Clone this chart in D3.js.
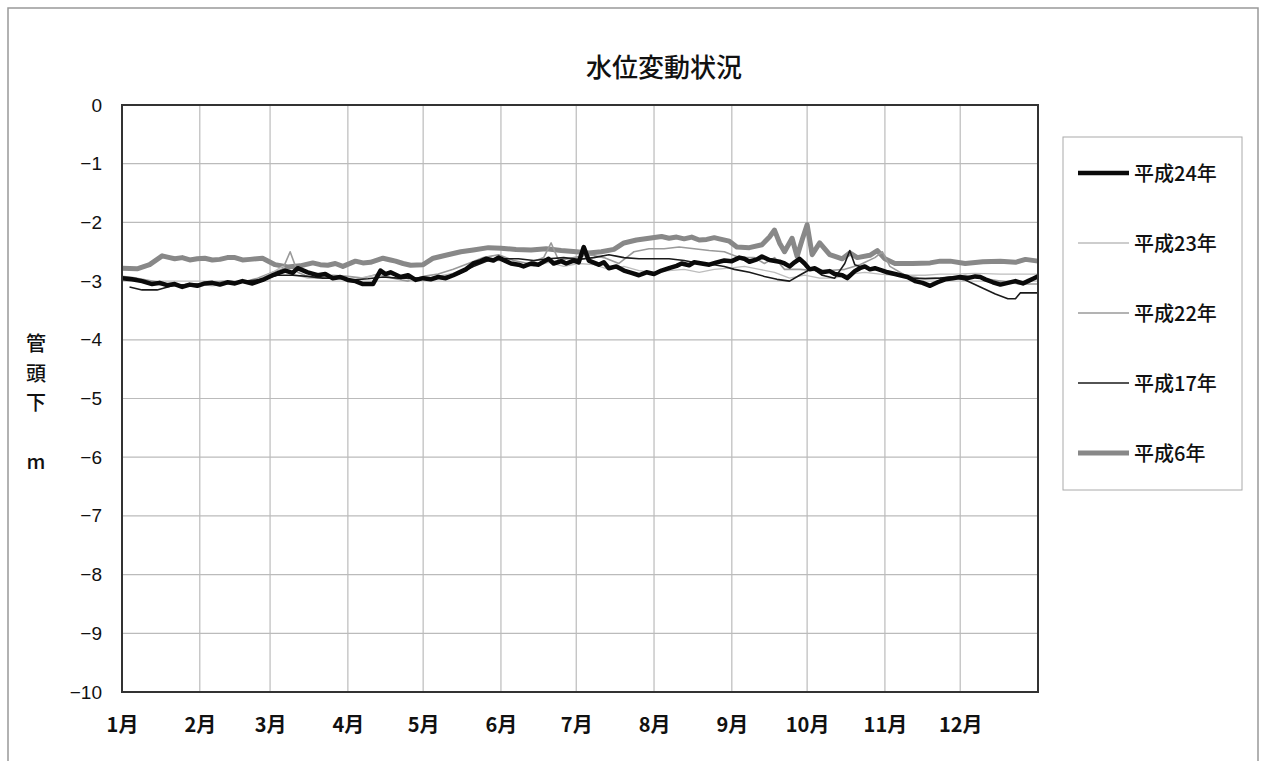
<!DOCTYPE html>
<html>
<head>
<meta charset="utf-8">
<script src="https://cdn.jsdelivr.net/npm/d3@7"></script>
<style>
  body { margin: 0; background: #fff; }
  text { fill: #111; }
</style>
</head>
<body>
<div id="main"></div>
<script>

// month labels and the day of year each month starts on
var monthLabels = ["1月", "2月", "3月", "4月", "5月", "6月", "7月", "8月", "9月", "10月", "11月", "12月"];
var monthStarts = [0, 31, 59, 90, 120, 151, 181, 212, 243, 273, 304, 334];
var yTicks = [0, -1, -2, -3, -4, -5, -6, -7, -8, -9, -10];

var seriesNames = ["平成24年", "平成23年", "平成22年", "平成17年", "平成6年"];

// [day of year, water level (m below well head)]
var h24 = [[0,-2.95],[4,-2.97],[8,-3.0],[12,-3.05],[15,-3.03],[18,-3.07],[21,-3.05],[24,-3.1],[27,-3.06],[30,-3.08],[33,-3.04],[36,-3.03],[39,-3.06],[42,-3.02],[45,-3.04],[48,-3.0],[52,-3.04],[56,-2.98],[60,-2.9],[63,-2.85],[65,-2.82],[68,-2.86],[70,-2.78],[74,-2.85],[78,-2.9],[81,-2.88],[84,-2.95],[87,-2.93],[90,-2.98],[93,-3.0],[96,-3.05],[100,-3.05],[103,-2.82],[105,-2.88],[107,-2.85],[111,-2.93],[114,-2.9],[117,-2.98],[120,-2.95],[123,-2.97],[126,-2.93],[129,-2.95],[132,-2.9],[134,-2.86],[137,-2.8],[140,-2.7],[143,-2.66],[145,-2.62],[148,-2.65],[150,-2.6],[153,-2.66],[155,-2.7],[158,-2.72],[160,-2.75],[163,-2.7],[166,-2.72],[170,-2.62],[172,-2.7],[175,-2.66],[177,-2.7],[180,-2.65],[182,-2.68],[184,-2.42],[186,-2.65],[190,-2.72],[192,-2.68],[194,-2.78],[197,-2.75],[200,-2.82],[203,-2.86],[206,-2.9],[209,-2.85],[212,-2.88],[215,-2.82],[218,-2.78],[221,-2.74],[223,-2.7],[226,-2.73],[228,-2.68],[231,-2.7],[234,-2.72],[237,-2.68],[240,-2.65],[243,-2.66],[246,-2.6],[248,-2.62],[250,-2.67],[253,-2.63],[255,-2.58],[258,-2.64],[262,-2.67],[264,-2.7],[266,-2.75],[268,-2.68],[270,-2.62],[272,-2.7],[274,-2.8],[276,-2.78],[279,-2.85],[282,-2.83],[284,-2.88],[287,-2.9],[289,-2.95],[292,-2.83],[294,-2.78],[296,-2.75],[298,-2.8],[300,-2.78],[303,-2.82],[305,-2.85],[308,-2.88],[310,-2.9],[313,-2.93],[316,-3.0],[319,-3.03],[322,-3.08],[325,-3.02],[328,-2.97],[331,-2.95],[334,-2.93],[337,-2.95],[340,-2.92],[342,-2.93],[344,-2.97],[347,-3.02],[350,-3.06],[353,-3.03],[356,-3.0],[359,-3.04],[361,-3.0],[363,-2.96],[365,-2.92]];

var h23 = [[0,-2.95],[6,-2.97],[12,-3.05],[18,-3.08],[24,-3.06],[30,-3.05],[36,-3.08],[42,-3.05],[48,-3.02],[54,-2.98],[60,-2.85],[64,-2.75],[68,-2.88],[74,-2.95],[80,-2.95],[86,-2.93],[92,-2.98],[98,-2.92],[104,-2.88],[110,-2.9],[116,-3.0],[122,-2.95],[128,-2.9],[134,-2.85],[140,-2.72],[146,-2.65],[152,-2.65],[158,-2.72],[164,-2.75],[170,-2.68],[176,-2.75],[182,-2.7],[188,-2.72],[194,-2.8],[200,-2.75],[206,-2.82],[212,-2.85],[218,-2.82],[224,-2.8],[230,-2.85],[236,-2.8],[242,-2.78],[248,-2.75],[254,-2.8],[260,-2.85],[266,-2.95],[272,-2.9],[278,-2.95],[284,-2.95],[290,-2.88],[296,-2.85],[302,-2.88],[308,-2.9],[314,-2.9],[320,-2.9],[326,-2.88],[332,-2.88],[340,-2.87],[350,-2.88],[358,-2.88],[365,-2.88]];

var h22 = [[0,-2.92],[6,-2.95],[12,-3.0],[18,-3.05],[24,-3.08],[30,-3.05],[36,-3.02],[42,-3.0],[48,-3.02],[54,-2.95],[60,-2.85],[64,-2.8],[67,-2.5],[70,-2.85],[74,-2.92],[78,-2.95],[84,-2.9],[90,-2.92],[96,-2.95],[102,-2.88],[108,-2.95],[114,-3.0],[120,-2.92],[126,-2.88],[132,-2.8],[138,-2.7],[144,-2.6],[150,-2.55],[156,-2.65],[162,-2.7],[168,-2.6],[171,-2.35],[174,-2.65],[180,-2.6],[186,-2.55],[192,-2.6],[198,-2.7],[204,-2.5],[210,-2.45],[216,-2.45],[222,-2.42],[228,-2.45],[234,-2.48],[240,-2.5],[246,-2.6],[252,-2.6],[256,-2.7],[260,-2.6],[264,-2.8],[270,-2.8],[276,-2.82],[282,-2.82],[288,-2.8],[294,-2.72],[300,-2.6],[303,-2.5],[306,-2.75],[312,-2.9],[318,-2.95],[324,-2.95],[330,-2.95],[336,-2.9],[342,-2.95],[350,-3.0],[358,-3.05],[365,-3.05]];

var h17 = [[3,-3.1],[8,-3.15],[14,-3.15],[20,-3.08],[26,-3.06],[32,-3.05],[38,-3.05],[44,-3.03],[50,-3.0],[56,-2.97],[62,-2.9],[68,-2.9],[74,-2.92],[80,-2.95],[86,-2.95],[92,-2.98],[98,-2.96],[104,-2.93],[110,-2.95],[116,-2.95],[122,-2.95],[128,-2.93],[134,-2.88],[140,-2.75],[146,-2.65],[152,-2.62],[158,-2.62],[164,-2.65],[170,-2.62],[176,-2.6],[182,-2.63],[188,-2.6],[194,-2.55],[200,-2.6],[206,-2.62],[212,-2.62],[218,-2.62],[224,-2.65],[230,-2.7],[236,-2.72],[240,-2.75],[244,-2.8],[250,-2.85],[256,-2.92],[261,-2.97],[266,-3.0],[270,-2.9],[275,-2.78],[279,-2.9],[284,-2.95],[288,-2.7],[290,-2.48],[292,-2.72],[296,-2.78],[302,-2.8],[308,-2.88],[314,-2.95],[320,-2.96],[326,-2.95],[330,-2.93],[336,-2.98],[342,-3.1],[348,-3.22],[353,-3.3],[356,-3.3],[358,-3.2],[365,-3.2]];

var h6 = [[0,-2.78],[6,-2.79],[11,-2.72],[16,-2.57],[19,-2.6],[21,-2.62],[24,-2.6],[27,-2.64],[30,-2.62],[33,-2.61],[36,-2.64],[39,-2.63],[42,-2.6],[45,-2.6],[48,-2.64],[51,-2.63],[56,-2.61],[61,-2.72],[66,-2.76],[71,-2.74],[76,-2.69],[79,-2.72],[82,-2.73],[85,-2.7],[88,-2.75],[93,-2.66],[96,-2.69],[99,-2.68],[104,-2.61],[107,-2.64],[109,-2.66],[112,-2.7],[115,-2.73],[120,-2.72],[124,-2.61],[129,-2.56],[135,-2.5],[140,-2.47],[146,-2.43],[151,-2.44],[157,-2.46],[163,-2.47],[169,-2.45],[175,-2.48],[181,-2.5],[186,-2.52],[191,-2.5],[196,-2.46],[200,-2.35],[205,-2.3],[210,-2.27],[215,-2.24],[218,-2.27],[221,-2.25],[224,-2.28],[227,-2.25],[230,-2.3],[233,-2.29],[236,-2.26],[238,-2.28],[242,-2.32],[245,-2.42],[250,-2.43],[255,-2.38],[258,-2.25],[260,-2.13],[262,-2.35],[264,-2.5],[267,-2.27],[269,-2.58],[271,-2.3],[273,-2.04],[275,-2.55],[278,-2.35],[282,-2.55],[287,-2.62],[290,-2.52],[293,-2.6],[298,-2.56],[301,-2.48],[304,-2.62],[308,-2.7],[315,-2.7],[322,-2.69],[326,-2.66],[330,-2.66],[336,-2.7],[343,-2.67],[350,-2.66],[356,-2.68],[360,-2.63],[365,-2.66]];

var allSeries = [h24, h23, h22, h17, h6];

// styles, same order as seriesNames
var colors = ["#0a0a0a", "#bdbdbd", "#9a9a9a", "#1a1a1a", "#888"];
var widths = [4.5, 1.3, 1.6, 1.6, 5];
var drawOrder = [4, 2, 1, 3, 0];

var w = 1266;
var h = 761;
var margin = {left: 122, top: 105, right: 228, bottom: 69};
var cjk = "'Noto Sans CJK JP'";

window.onload = function () {

  var svg = d3.select("#main").append("svg")
      .attr("width", w)
      .attr("height", h);

  // outer chart frame
  svg.append("rect")
      .attr("x", 8).attr("y", 8)
      .attr("width", 1250).attr("height", 770)
      .attr("fill", "none")
      .attr("stroke", "#999")
      .attr("stroke-width", 1.5);

  var x = d3.scaleLinear()
      .domain([0, 365])
      .range([margin.left, w - margin.right]);

  var y = d3.scaleLinear()
      .domain([-10, 0])
      .range([h - margin.bottom, margin.top]);

  svg.append("text")
      .attr("x", 664).attr("y", 77)
      .attr("text-anchor", "middle")
      .style("font-family", cjk)
      .style("font-size", "26px")
      .style("font-weight", "500")
      .text("水位変動状況");

  // grid
  var grid = svg.append("g");
  grid.selectAll(".hg")
      .data(yTicks.slice(1, -1))
      .enter().append("line")
      .attr("x1", x(0)).attr("x2", x(365))
      .attr("y1", function(d) { return y(d); })
      .attr("y2", function(d) { return y(d); })
      .attr("stroke", "#bbb").attr("stroke-width", 1.2);

  grid.selectAll(".vg")
      .data(monthStarts.slice(1))
      .enter().append("line")
      .attr("y1", y(0)).attr("y2", y(-10))
      .attr("x1", function(d) { return x(d); })
      .attr("x2", function(d) { return x(d); })
      .attr("stroke", "#bbb").attr("stroke-width", 1.2);

  // lines
  var line = d3.line()
      .x(function(d) { return x(d[0]); })
      .y(function(d) { return y(d[1]); });

  drawOrder.forEach(function(i) {
    svg.append("path")
        .datum(allSeries[i])
        .attr("d", line)
        .attr("fill", "none")
        .attr("stroke", colors[i])
        .attr("stroke-width", widths[i])
        .attr("stroke-linejoin", "round");
  });

  // plot border
  svg.append("rect")
      .attr("x", x(0)).attr("y", y(0))
      .attr("width", x(365) - x(0))
      .attr("height", y(-10) - y(0))
      .attr("fill", "none")
      .attr("stroke", "#333")
      .attr("stroke-width", 2);

  // y axis
  var yAxis = d3.axisLeft(y)
      .tickValues(yTicks)
      .tickSize(0)
      .tickPadding(20)
      .tickFormat(d3.format("d"));

  svg.append("g")
      .attr("transform", "translate(" + x(0) + ",0)")
      .call(yAxis)
      .call(function(g) { g.select(".domain").remove(); })
      .selectAll("text")
      .style("font-family", "'Liberation Sans', Arial")
      .style("font-size", "19px")
      .attr("fill", "#000");

  // x axis
  var xAxis = d3.axisBottom(x)
      .tickValues(monthStarts)
      .tickSize(0)
      .tickPadding(26)
      .tickFormat(function(d, i) { return monthLabels[i]; });

  svg.append("g")
      .attr("transform", "translate(0," + y(-10) + ")")
      .call(xAxis)
      .call(function(g) { g.select(".domain").remove(); })
      .selectAll("text")
      .style("font-family", cjk)
      .style("font-size", "20px")
      .style("font-weight", "700")
      .attr("fill", "#000");

  // y axis title, stacked vertically
  var yTitle = ["管", "頭", "下", "", "m"];
  svg.selectAll(".yt")
      .data(yTitle)
      .enter().append("text")
      .attr("x", 36)
      .attr("y", function(d, i) { return 351 + i * 29.5; })
      .attr("text-anchor", "middle")
      .style("font-family", cjk)
      .style("font-size", "20px")
      .style("font-weight", "500")
      .text(function(d) { return d; });

  // legend
  var lg = svg.append("g");
  lg.append("rect")
      .attr("x", 1063).attr("y", 137)
      .attr("width", 179).attr("height", 353)
      .attr("fill", "#fff")
      .attr("stroke", "#aaa")
      .attr("stroke-width", 1);

  var items = lg.selectAll(".item")
      .data(seriesNames)
      .enter().append("g")
      .attr("transform", function(d, i) { return "translate(0," + (173 + i * 70) + ")"; });

  items.append("line")
      .attr("x1", 1078).attr("x2", 1129)
      .attr("stroke", function(d, i) { return colors[i]; })
      .attr("stroke-width", function(d, i) { return widths[i]; });

  items.append("text")
      .attr("x", 1134).attr("y", 8)
      .style("font-family", cjk)
      .style("font-size", "20px")
      .style("font-weight", "500")
      .text(function(d) { return d; });
};
</script>
</body>
</html>
